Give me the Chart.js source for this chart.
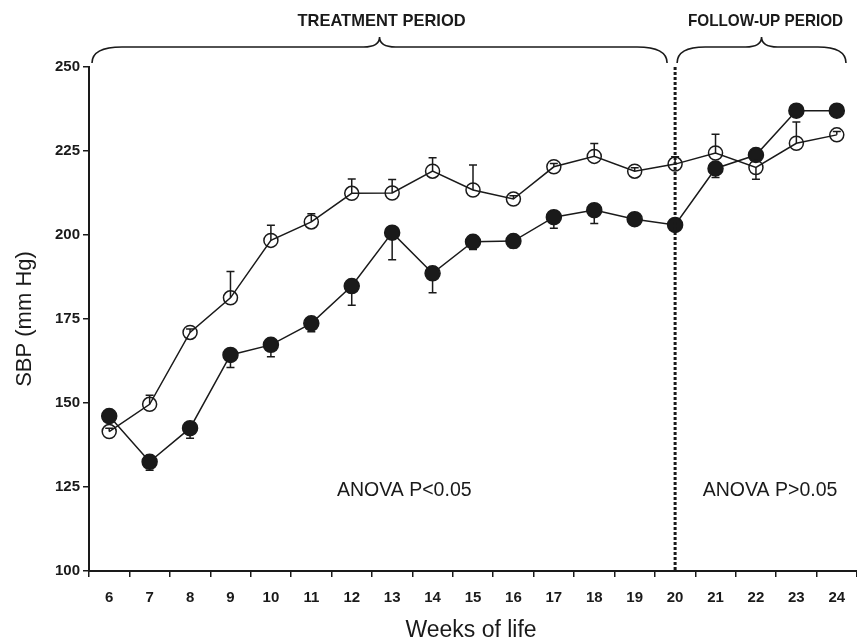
<!DOCTYPE html>
<html>
<head>
<meta charset="utf-8">
<script src="https://cdn.jsdelivr.net/npm/chart.js@4.4.1/dist/chart.umd.min.js"></script>
<style>
html, body { margin: 0; padding: 0; background: #fff; }
#wrap { width: 857px; height: 643px; }
</style>
</head>
<body>
<div id="wrap"><canvas id="sbpChart" width="857" height="643"></canvas></div>
<script>
const weeks = ['6', '7', '8', '9', '10', '11', '12', '13', '14', '15', '16', '17', '18', '19', '20', '21', '22', '23', '24'];
const openValues = [141.5, 149.6, 171, 181.3, 198.4, 203.9, 212.4, 212.5, 219, 213.4, 210.7, 220.3, 223.4, 219, 221.1, 224.4, 220.1, 227.3, 229.8];
// signed error: + goes up, - goes down
const openErr = [1, 2.7, 1, 7.8, 4.5, 2.4, 4.3, 4, 4, 7.4, 1, 1, 3.8, 1, 2.2, 5.6, -3.5, 6.3, 1];
const filledValues = [146.1, 132.5, 142.5, 164.3, 167.3, 173.7, 184.8, 200.7, 188.6, 198, 198.2, 205.3, 207.4, 204.7, 203, 219.8, 223.8, 237, 237];
const filledErr = [-1, -2.5, -3, -3.7, -3.5, -2.5, -5.7, -8.1, -5.8, -2.3, -2, -3.3, -4, -1.5, -1, -2.7, -1, 0, 0];
const yTicks = [100, 125, 150, 175, 200, 225, 250];
const splitWeek = '20';

const INK = '#1a1a1a';

document.addEventListener('DOMContentLoaded', () => {

    const errorBars = {
        id: 'errorBars',
        beforeDatasetsDraw(chart) {
            const ctx = chart.ctx;
            const x = chart.scales.x, y = chart.scales.y;
            ctx.save();
            ctx.strokeStyle = INK;
            ctx.lineWidth = 1.5;
            [[openValues, openErr], [filledValues, filledErr]].forEach(([vals, errs]) => {
                vals.forEach((v, i) => {
                    const e = errs[i];
                    if (!e) return;
                    const px = x.getPixelForValue(i);
                    const y0 = y.getPixelForValue(v);
                    const y1 = y.getPixelForValue(v + e);
                    ctx.beginPath();
                    ctx.moveTo(px, y0);
                    ctx.lineTo(px, y1);
                    ctx.moveTo(px - 4, y1);
                    ctx.lineTo(px + 4, y1);
                    ctx.stroke();
                });
            });
            ctx.restore();
        }
    };

    const brace = (ctx, x0, x1, yEnd, yLine, yPeak) => {
        const xm = (x0 + x1) / 2;
        const r = Math.min(30, (x1 - x0) / 6);
        const rp = 16;
        ctx.beginPath();
        ctx.moveTo(x0, yEnd);
        ctx.quadraticCurveTo(x0, yLine, x0 + r, yLine);
        ctx.lineTo(xm - rp, yLine);
        ctx.quadraticCurveTo(xm, yLine, xm, yPeak);
        ctx.quadraticCurveTo(xm, yLine, xm + rp, yLine);
        ctx.lineTo(x1 - r, yLine);
        ctx.quadraticCurveTo(x1, yLine, x1, yEnd);
        ctx.stroke();
    };

    const condensedText = (ctx, text, cx, cy, font, squeeze) => {
        ctx.save();
        ctx.font = font;
        ctx.translate(cx, cy);
        ctx.scale(squeeze, 1);
        ctx.textAlign = 'center';
        ctx.textBaseline = 'middle';
        ctx.fillText(text, 0, 0);
        ctx.restore();
    };

    const annotations = {
        id: 'annotations',
        afterDraw(chart) {
            const ctx = chart.ctx;
            const x = chart.scales.x, y = chart.scales.y;
            const splitX = x.getPixelForValue(weeks.indexOf(splitWeek));
            ctx.save();
            ctx.fillStyle = INK;
            ctx.strokeStyle = INK;

            // dotted divider
            ctx.lineWidth = 3;
            ctx.setLineDash([3, 2]);
            ctx.beginPath();
            ctx.moveTo(splitX, y.top);
            ctx.lineTo(splitX, y.bottom);
            ctx.stroke();
            ctx.setLineDash([]);

            // period braces
            ctx.lineWidth = 1.6;
            const tA = x.left + 3, tB = splitX - 8;
            const fA = splitX + 2, fB = x.right - 11;
            brace(ctx, tA, tB, 63, 47, 37);
            brace(ctx, fA, fB, 63, 47, 37);

            const headFont = 'bold 17px "Liberation Sans", Arial, sans-serif';
            condensedText(ctx, 'TREATMENT PERIOD', (tA + tB) / 2 + 2, 21, headFont, 0.97);
            condensedText(ctx, 'FOLLOW-UP PERIOD', (fA + fB) / 2 + 4, 21, headFont, 0.9);

            // ANOVA notes
            ctx.font = '19.5px "Liberation Sans", Arial, sans-serif';
            ctx.textAlign = 'center';
            ctx.textBaseline = 'middle';
            const noteY = y.getPixelForValue(124);
            ctx.fillText('ANOVA P<0.05', x.getPixelForValue(7.3), noteY);
            ctx.fillText('ANOVA P>0.05', (splitX + x.right) / 2 + 4, noteY);

            // axis titles
            ctx.font = '23px "Liberation Sans", Arial, sans-serif';
            ctx.fillText('Weeks of life', (x.left + x.right) / 2 - 2, 631);
            ctx.save();
            ctx.translate(25, (y.top + y.bottom) / 2);
            ctx.rotate(-Math.PI / 2);
            ctx.font = '22px "Liberation Sans", Arial, sans-serif';
            ctx.fillText('SBP (mm Hg)', 0, 0);
            ctx.restore();

            ctx.restore();
        }
    };

    new Chart(document.getElementById('sbpChart'), {
        type: 'line',
        data: {
            labels: weeks,
            datasets: [
                {
                    label: 'open',
                    data: openValues,
                    borderColor: INK,
                    borderWidth: 1.5,
                    backgroundColor: 'rgba(0,0,0,0)',
                    pointBackgroundColor: 'rgba(0,0,0,0)',
                    pointBorderColor: INK,
                    pointBorderWidth: 1.5,
                    pointRadius: 7,
                    tension: 0,
                    clip: false
                },
                {
                    label: 'filled',
                    data: filledValues,
                    borderColor: INK,
                    borderWidth: 1.5,
                    backgroundColor: INK,
                    pointBackgroundColor: INK,
                    pointBorderColor: INK,
                    pointRadius: 7.5,
                    tension: 0,
                    clip: false
                }
            ]
        },
        options: {
            responsive: false,
            animation: false,
            devicePixelRatio: 1,
            layout: { autoPadding: false, padding: { top: 67, right: 0, bottom: 0, left: 0 } },
            plugins: {
                legend: { display: false },
                tooltip: { enabled: false }
            },
            scales: {
                x: {
                    type: 'category',
                    offset: true,
                    grid: { offset: true, drawOnChartArea: false, drawTicks: true, tickLength: 6, color: INK, lineWidth: 1.5 },
                    border: { color: INK, width: 2 },
                    ticks: {
                        color: INK,
                        padding: 12,
                        maxRotation: 0,
                        autoSkip: false,
                        font: { family: '"Liberation Sans", Arial, sans-serif', size: 15, weight: 'bold' }
                    },
                    afterFit: (scale) => {
                        scale.height = 72;
                        scale.paddingLeft = 0;
                        scale.paddingRight = 0;
                    }
                },
                y: {
                    min: 100,
                    max: 250,
                    afterBuildTicks: (scale) => { scale.ticks = yTicks.map(v => ({ value: v })); },
                    grid: { drawOnChartArea: false, drawTicks: true, tickLength: 6, color: INK, lineWidth: 1.5 },
                    border: { color: INK, width: 2 },
                    ticks: {
                        color: INK,
                        padding: 3,
                        font: { family: '"Liberation Sans", Arial, sans-serif', size: 15, weight: 'bold' }
                    },
                    afterFit: (scale) => {
                        scale.width = 89;
                        scale.paddingTop = 0;
                        scale.paddingBottom = 0;
                    }
                }
            }
        },
        plugins: [errorBars, annotations]
    });
});
</script>
</body>
</html>
